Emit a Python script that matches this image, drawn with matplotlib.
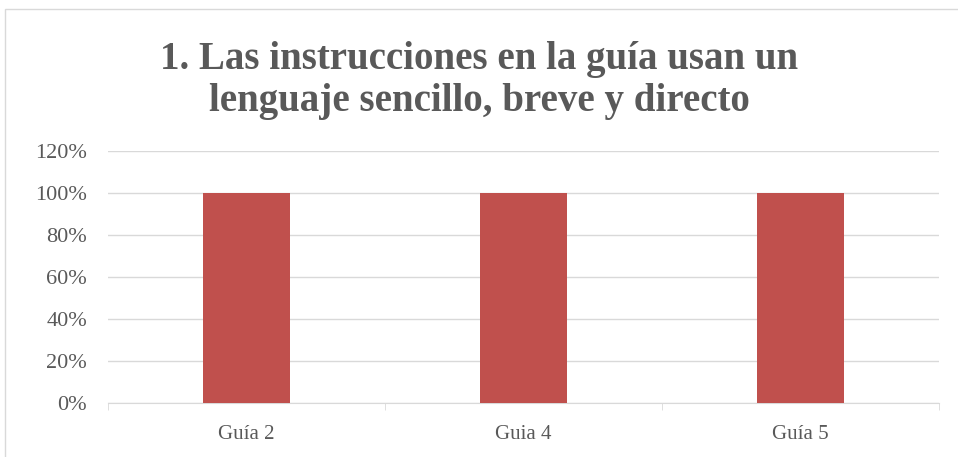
import matplotlib.pyplot as plt
from matplotlib.patches import Rectangle
from matplotlib.ticker import PercentFormatter

# datos
guias = ["Guía 2", "Guia 4", "Guía 5"]
porcentajes = [100, 100, 100]

fig = plt.figure(figsize=(9.58, 4.57), dpi=100)
ax = fig.add_axes([108 / 958, 1 - 403 / 457, (939 - 108) / 958, (403 - 151) / 457])

# marco gris del grafico
fig.patches.append(Rectangle((5 / 958, -0.1), 1.1, 1 - 9 / 457 + 0.1, transform=fig.transFigure,
                             fill=False, edgecolor="#d9d9d9", linewidth=1))

x = range(len(guias))
ax.bar(x, porcentajes, width=0.314, color="#c0504d", zorder=3)

ax.set_xlim(-0.5, 2.5)
ax.set_ylim(0, 120)
ax.set_yticks(range(0, 121, 20))
ax.yaxis.set_major_formatter(PercentFormatter(decimals=0))
ax.set_xticks(list(x))
ax.set_xticklabels(guias)
ax.set_xticks([-0.5, 0.5, 1.5, 2.5], minor=True)

ax.grid(axis="y", color="#d9d9d9", linewidth=1, zorder=0)
for s in ["top", "right", "left"]:
    ax.spines[s].set_visible(False)
ax.spines["bottom"].set_color("#d9d9d9")

ax.tick_params(axis="y", length=0, pad=15, labelsize=16, labelcolor="#595959")
ax.tick_params(axis="x", which="major", length=0, pad=16, labelsize=15, labelcolor="#595959")
ax.tick_params(axis="x", which="minor", length=5, color="#d9d9d9")
for lab in ax.get_xticklabels() + ax.get_yticklabels():
    lab.set_family("Liberation Serif")

fig.text(0.5, 1 - 69 / 457, "1. Las instrucciones en la guía usan un", ha="center",
         fontsize=28, fontweight="bold", color="#595959", family="Liberation Serif")
fig.text(0.5, 1 - 111 / 457, "lenguaje sencillo, breve y directo", ha="center",
         fontsize=28, fontweight="bold", color="#595959", family="Liberation Serif")

fig.savefig("out.png", dpi=100)
